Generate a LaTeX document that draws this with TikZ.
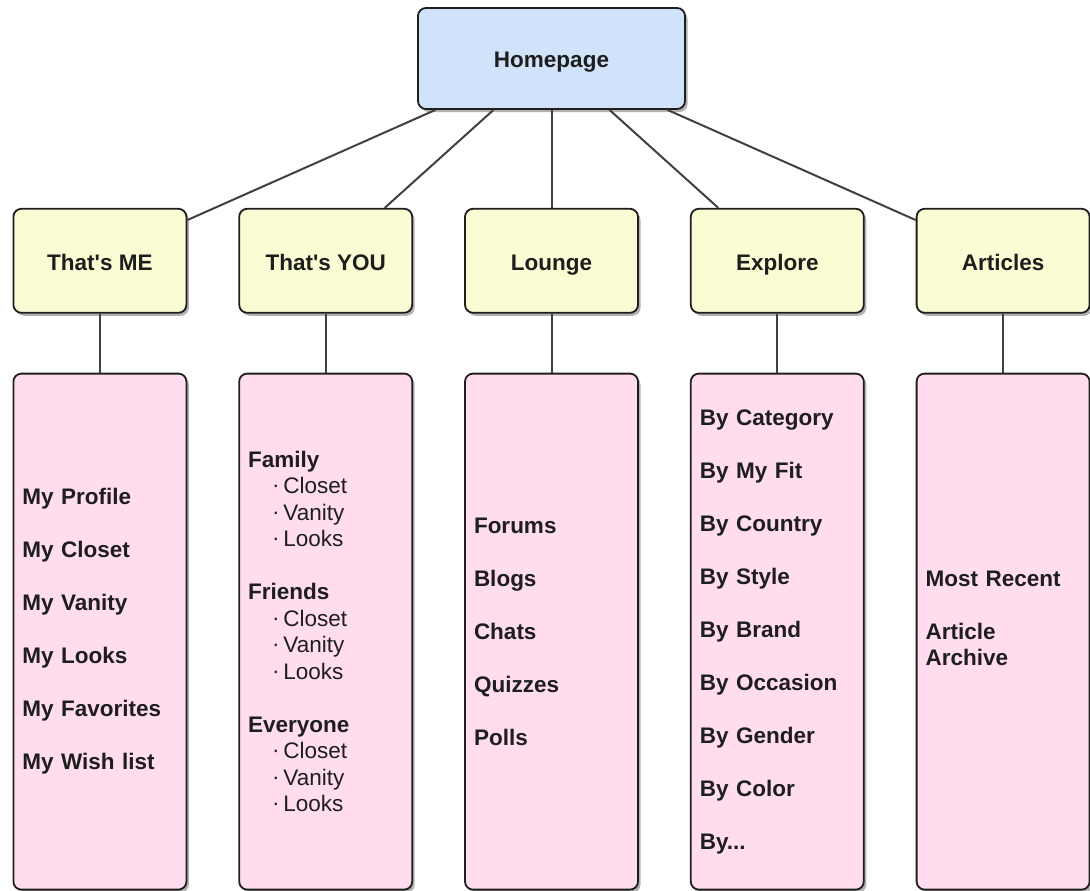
\documentclass[tikz,border=0pt]{standalone}
\usepackage{fontspec}
\setmainfont{Liberation Sans}
\usetikzlibrary{positioning, shadows}

\definecolor{homeblue}{HTML}{D0E3FB}
\definecolor{tabyellow}{HTML}{FAFCD3}
\definecolor{pagepink}{HTML}{FFDDEE}
\definecolor{ink}{HTML}{1E1E1E}

\newcommand{\subpage}[1]{{\mdseries\hspace*{24pt}\raisebox{1pt}{·}\,#1}}
\newcommand{\gap}{\\[26.5pt]}

\begin{document}
\begin{tikzpicture}[x=1pt, y=1pt, node distance=51pt, semithick,
    box/.style={draw=ink, line width=1.8pt, rounded corners=8pt, text=ink,
      font=\fontsize{22.5}{26.5}\selectfont\bfseries,
      drop shadow={shadow xshift=2.5pt, shadow yshift=-3pt, opacity=0.3, fill=black}},
    homebox/.style={box, fill=homeblue, minimum width=267pt, minimum height=101pt,
      text height=18pt, text depth=0pt},
    tabbox/.style={box, fill=tabyellow, minimum width=173pt, minimum height=104pt,
      text height=20pt, text depth=0pt},
    pagebox/.style={box, fill=pagepink, minimum width=173pt, minimum height=516pt,
      text width=155pt, inner xsep=9pt, align=left},
    link/.style={draw=ink!85, line width=2pt}]

    \useasboundingbox (0,0) rectangle (1090,-891);

    \node[homebox] (home) at (551.5,-58.5) {Homepage};

    % second level
    \node[tabbox] (lounge)   [below=98pt of home] {Lounge};
    \node[tabbox] (you)      [left=of lounge]     {That\textquotesingle s YOU};
    \node[tabbox] (me)       [left=of you]        {That\textquotesingle s ME};
    \node[tabbox] (explore)  [right=of lounge]    {Explore};
    \node[tabbox] (articles) [right=of explore]   {Articles};

    % page lists
    \node[pagebox] (melist) [below=59pt of me]
      {My Profile\gap My Closet\gap My Vanity\gap My Looks\gap My Favorites\gap My Wish list};
    \node[pagebox] (youlist) [below=59pt of you]
      {Family\\\subpage{Closet}\\\subpage{Vanity}\\\subpage{Looks}\gap
       Friends\\\subpage{Closet}\\\subpage{Vanity}\\\subpage{Looks}\gap
       Everyone\\\subpage{Closet}\\\subpage{Vanity}\\\subpage{Looks}};
    \node[pagebox] (loungelist) [below=59pt of lounge]
      {Forums\gap Blogs\gap Chats\gap Quizzes\gap Polls};
    \node[pagebox] (explorelist) [below=59pt of explore]
      {By Category\gap By My Fit\gap By Country\gap By Style\gap By Brand\gap
       By Occasion\gap By Gender\gap By Color\gap By...};
    \node[pagebox] (articleslist) [below=59pt of articles]
      {Most Recent\gap Article\\Archive\\\mbox{}};

    \path[link]
    ([xshift=-116pt]home.south) edge (me.25)
    ([xshift=-58pt]home.south)  edge ([xshift=59pt]you.north)
    (home.south)                edge (lounge.north)
    ([xshift=58pt]home.south)   edge ([xshift=-59pt]explore.north)
    ([xshift=116pt]home.south)  edge (articles.155)
    (me)       edge (melist)
    (you)      edge (youlist)
    (lounge)   edge (loungelist)
    (explore)  edge (explorelist)
    (articles) edge (articleslist);
\end{tikzpicture}
\end{document}
